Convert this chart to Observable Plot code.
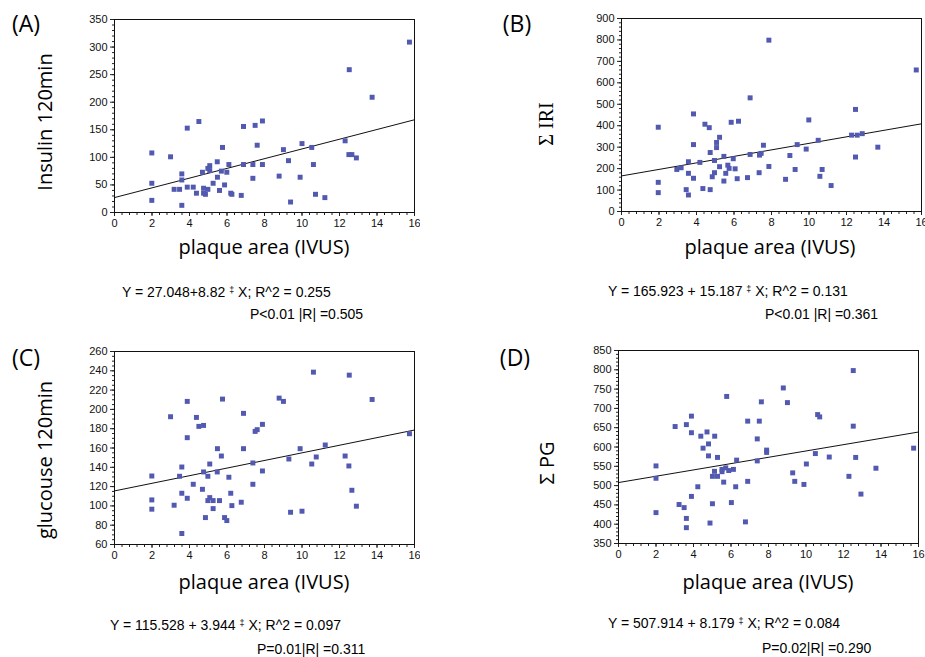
<!DOCTYPE html>
<html><head><meta charset="utf-8">
<script src="https://cdn.jsdelivr.net/npm/d3@7"></script>
<script src="https://cdn.jsdelivr.net/npm/@observablehq/plot@0.6"></script>
<style>
body{margin:0;background:#fff;}
#root{position:relative;width:925px;height:657px;overflow:hidden;background:#fff;font-family:"Open Sans",sans-serif;color:#000;}
.t{position:absolute;white-space:nowrap;line-height:1;}
.c{transform:translate(-50%,-50%);}
.r{transform:translate(-50%,-50%) rotate(-90deg);}
.eq{font-family:"Liberation Sans",Arial,sans-serif;font-size:14px;line-height:16px;}
.dg{font-size:9px;vertical-align:4px;}
</style></head><body><div id="root"></div>
<script>
// ---------- data ----------
const plaqueA = [15.73,12.52,13.74,12.3,12.5,12.66,12.9,11.22,10.72,10.61,10.52,10.0,9.9,9.39,9.28,9.01,8.78,7.89,7.89,7.61,7.5,7.38,7.38,6.88,6.88,6.76,6.26,6.2,6.1,5.99,5.87,5.76,5.7,5.6,5.49,5.48,5.26,5.08,5.08,4.98,4.98,4.85,4.75,4.75,4.69,4.5,4.37,4.2,3.88,3.88,3.59,3.59,3.59,3.47,3.18,2.99,1.99,1.99,1.99];
const insulin120 = [309,259,209,130,105,105,99,27,33,87,118,125,64,19,94,114,66,166,87,122,158,87,62,156,87,31,33,35,87,73,50,118,75,40,64,92,53,85,76,80,42,33,44,35,73,165,35,46,46,153,70,59,13,42,42,101,108,53,22];

const plaqueB = [15.72,7.86,12.48,12.27,12.57,12.84,13.67,12.48,11.18,10.7,10.58,10.49,9.99,9.85,9.37,9.26,8.98,8.75,7.86,7.57,7.45,7.36,7.34,6.86,6.86,6.72,6.24,6.17,6.06,5.96,5.85,5.74,5.67,5.56,5.46,5.46,5.23,5.23,5.07,5.07,4.96,4.96,4.84,4.73,4.73,4.68,4.45,4.34,4.18,3.84,3.84,3.84,3.57,3.57,3.57,3.45,3.18,2.95,1.96,1.96,1.96];
const sumIRI = [660,799,476,356,356,363,300,254,121,196,164,332,427,291,312,196,261,150,210,309,271,263,181,266,530,158,421,153,199,246,416,201,216,178,257,142,346,209,322,298,238,181,162,275,102,391,407,107,229,155,312,455,232,178,77,102,204,196,393,136,88];

const plaqueC = [15.73,10.61,12.52,13.74,8.78,9.01,11.24,9.9,10.76,12.3,9.3,10.52,12.5,12.66,12.9,10.0,9.39,7.89,7.61,7.5,6.88,6.88,7.38,7.89,7.38,6.76,6.2,6.26,6.1,5.99,5.87,5.76,5.7,5.6,5.49,5.48,5.26,5.26,5.08,5.08,4.98,4.98,4.85,4.75,4.75,4.69,4.5,4.37,4.2,3.88,3.88,3.88,3.59,3.59,3.59,3.47,3.18,2.99,1.99,1.99,1.99];
const glucose120 = [174.8,238.6,235.5,210.3,211.7,208.3,163.1,159.3,150.7,151.7,148.6,143.4,141.4,116.2,99.7,94.5,93.4,184.5,179,177.2,195.9,159.3,144.5,136.2,122.4,103.8,113.1,100.3,129.7,84.8,87.9,210.7,151.7,105.5,159.3,135.2,105.5,97.2,143.4,108.6,130.7,105.5,87.9,183.4,135.2,117.2,182.4,191.7,122.4,208.3,170.7,107.9,140.3,113.1,71.4,130.7,100.7,192.4,131,106.2,96.6];

const plaqueD = [15.74,12.52,12.52,12.65,12.29,12.93,13.73,11.24,10.62,10.73,10.5,10.02,9.89,9.4,9.29,9.01,8.79,7.9,7.9,7.62,7.51,7.4,7.4,6.89,6.89,6.77,6.3,6.25,6.13,6.02,5.88,5.77,5.72,5.61,5.52,5.52,5.28,5.28,5.13,5.12,5.01,5.01,4.88,4.8,4.8,4.72,4.51,4.39,4.23,3.89,3.89,3.89,3.62,3.62,3.62,3.5,3.23,3.02,2.0,2.0,2.0];
const sumPG = [597,798,654,573,524,478,545,574,684,678,583,556,503,511,533,715,753,592,586,717,667,621,564,667,511,406,566,497,542,456,539,731,546,509,542,536,573,524,628,537,524,453,403,608,577,639,597,628,497,680,637,472,658,415,391,443,451,653,551,519,430];

const xTickLabels = [0,2,4,6,8,10,12,14,16];
const ticksA = [0,50,100,150,200,250,300,350];
const ticksB = [0,100,200,300,400,500,600,700,800,900];
const ticksC = [60,80,100,120,140,160,180,200,220,240,260];
const ticksD = [350,400,450,500,550,600,650,700,750,800,850];

const interceptA = 27.048, slopeA = 8.82;
const interceptB = 165.923, slopeB = 15.187;
const interceptC = 115.528, slopeC = 3.944;
const interceptD = 507.914, slopeD = 8.179;

// ---------- drawing ----------
const root = document.getElementById("root");
const dotColor = "#5259b0";

function panel({xs, ys, a, b, yTicks, minorStep, left, top, mR}) {
  const mL = 42, mT = 8, mB = 26, W = 300, H = 193;
  const data = xs.map((v, i) => ({x: v, y: ys[i]}));
  const fit = [0, 16].map(v => ({x: v, y: a + b * v}));
  const yMin = yTicks[0], yMax = yTicks[yTicks.length - 1];
  const yMinor = d3.range(yMin, yMax + 1e-9, minorStep);
  const xMinor = d3.range(0, 16 + 1e-9, 0.4);
  const p = Plot.plot({
    width: mL + W + mR, height: mT + H + mB,
    marginLeft: mL, marginRight: mR, marginTop: mT, marginBottom: mB,
    x: {domain: [0, 16], label: null}, y: {domain: [yMin, yMax], label: null},
    style: {fontFamily: "'Liberation Sans', Arial, sans-serif", fontSize: "11px", color: "#111", background: "transparent"},
    marks: [
      Plot.axisY(yMinor, {tickSize: 2, text: null, label: null, stroke: "#222"}),
      Plot.axisY(yTicks, {tickSize: 4, tickPadding: 3, label: null, stroke: "#222"}),
      Plot.axisX(xMinor, {tickSize: 3, text: null, label: null, stroke: "#222"}),
      Plot.axisX(xTickLabels, {tickSize: 4, tickPadding: 3, label: null, stroke: "#222"}),
      Plot.frame({stroke: "#111", strokeWidth: 1}),
      Plot.line(fit, {x: "x", y: "y", stroke: "#111", strokeWidth: 1}),
      Plot.dot(data, {x: "x", y: "y", symbol: "square", r: 2.8, fill: dotColor, stroke: null})
    ]
  });
  p.style.position = "absolute";
  p.style.left = (left - mL) + "px";
  p.style.top = (top - mT) + "px";
  root.append(p);
}

function text(html, cx, cy, cls, style) {
  const d = document.createElement("div");
  d.className = "t " + cls;
  d.innerHTML = html;
  d.style.left = cx + "px";
  d.style.top = cy + "px";
  if (style) Object.assign(d.style, style);
  root.append(d);
}
function eq(html, x, cy) {
  const d = document.createElement("div");
  d.className = "t eq";
  d.innerHTML = html;
  d.style.left = x + "px";
  d.style.top = (cy - 8) + "px";
  root.append(d);
}

panel({xs: plaqueA, ys: insulin120, a: interceptA, b: slopeA, yTicks: ticksA, minorStep: 10, left: 114, top: 19, mR: 6});
panel({xs: plaqueB, ys: sumIRI, a: interceptB, b: slopeB, yTicks: ticksB, minorStep: 20, left: 621, top: 18, mR: 15});
panel({xs: plaqueC, ys: glucose120, a: interceptC, b: slopeC, yTicks: ticksC, minorStep: 5, left: 114, top: 351, mR: 6});
panel({xs: plaqueD, ys: sumPG, a: interceptD, b: slopeD, yTicks: ticksD, minorStep: 10, left: 618, top: 350, mR: 15});

const big = {fontSize: "23px"};
const lab = {fontSize: "20px"};
text("(A)", 26, 23, "c", big);
text("(B)", 517, 23, "c", big);
text("(C)", 26, 357, "c", big);
text("(D)", 515, 357, "c", big);

text("Insulin 120min", 45, 122, "r", lab);
text("&Sigma; IRI", 546, 124, "r", {fontSize: "20px", fontFamily: "'Liberation Serif','DejaVu Serif',serif"});
text("glucouse 120min", 45, 460, "r", lab);
text("&Sigma; PG", 547, 463, "r", lab);

text("plaque area (IVUS)", 264, 247, "c", lab);
text("plaque area (IVUS)", 770, 247, "c", lab);
text("plaque area (IVUS)", 264, 582, "c", lab);
text("plaque area (IVUS)", 768, 582, "c", lab);

const dg = '<span class="dg">&Dagger;</span>';
eq(`Y = 27.048+8.82 ${dg} X; R^2 = 0.255`, 122, 290);
eq(`P&lt;0.01 |R| =0.505`, 250, 314);
eq(`Y = 165.923 + 15.187 ${dg} X; R^2 = 0.131`, 608, 289);
eq(`P&lt;0.01 |R| =0.361`, 765, 314);
eq(`Y = 115.528 + 3.944 ${dg} X; R^2 = 0.097`, 110, 623);
eq(`P=0.01|R| =0.311`, 257, 649);
eq(`Y = 507.914 + 8.179 ${dg} X; R^2 = 0.084`, 608, 621);
eq(`P=0.02|R| =0.290`, 762, 648);
</script></body></html>
